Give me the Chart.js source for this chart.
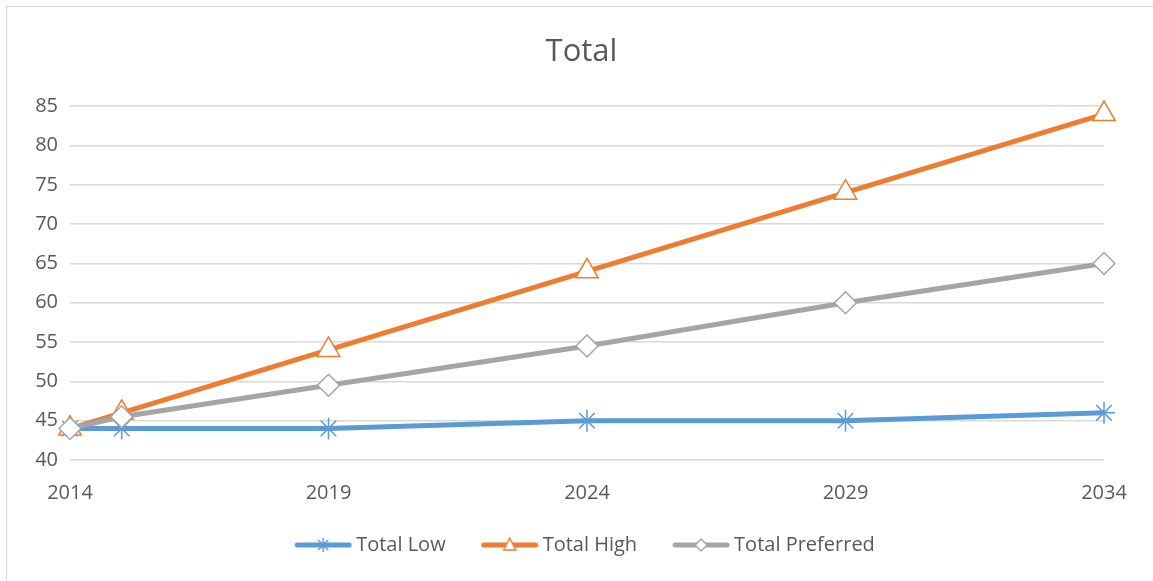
<!DOCTYPE html>
<html>
<head>
<meta charset="utf-8">
<script src="https://cdn.jsdelivr.net/npm/chart.js@4"></script>
<style>
  body { margin: 0; background: #fff; }
  #wrap { position: relative; width: 1153px; height: 581px; }
  #frame { position: absolute; left: 6px; top: 6px; width: 1160px; height: 590px; border: 1px solid #d9d9d9; }
  canvas { position: absolute; left: 0; top: 0; }
</style>
</head>
<body>
<div id="wrap">
  <div id="frame"></div>
  <canvas id="chart" width="1153" height="581"></canvas>
</div>
<script>
var years = [2014, 2015, 2019, 2024, 2029, 2034];
var totalLow = [44, 44, 44, 45, 45, 46];
var totalHigh = [44, 46, 54, 64, 74, 84];
var totalPreferred = [44, 45.5, 49.5, 54.5, 60, 65];
var seriesNames = ['Total Low', 'Total High', 'Total Preferred'];
var colors = ['#5b9bd5', '#ed7d31', '#a5a5a5'];
var markers = ['star', 'triangle', 'rectRot'];
var markerSizes = [11, 13, 11];

var textColor = '#595959';
var fontName = '"Open Sans", sans-serif';

function toPoints(vals) {
    var pts = [];
    for (var i in years) {
        pts.push({x: years[i], y: vals[i]});
    }
    return pts;
}

// small legend picture: thick line with the marker in the middle
function legendIcon(color, marker) {
    var gap = 6;
    var c = document.createElement('canvas');
    c.width = 58 + 2 * gap;
    c.height = 20;
    var g = c.getContext('2d');
    g.strokeStyle = color;
    g.lineWidth = 5;
    g.lineCap = 'round';
    g.beginPath();
    g.moveTo(2 * gap + 3, 10);
    g.lineTo(c.width - 3, 10);
    g.stroke();
    var cx = 2 * gap + 29;
    g.lineWidth = 1.5;
    g.lineCap = 'butt';
    g.fillStyle = '#fff';
    g.beginPath();
    if (marker == 'triangle') {
        g.moveTo(cx, 3); g.lineTo(cx + 6, 15); g.lineTo(cx - 6, 15); g.closePath();
        g.fill(); g.stroke();
    } else if (marker == 'rectRot') {
        g.moveTo(cx, 4); g.lineTo(cx + 6, 10); g.lineTo(cx, 16); g.lineTo(cx - 6, 10); g.closePath();
        g.fill(); g.stroke();
    } else {
        g.moveTo(cx - 5, 5); g.lineTo(cx + 5, 15);
        g.moveTo(cx + 5, 5); g.lineTo(cx - 5, 15);
        g.moveTo(cx, 3); g.lineTo(cx, 17);
        g.stroke();
    }
    return c;
}

var allValues = [totalLow, totalHigh, totalPreferred];
var datasets = [];
for (var s = 0; s < 3; s++) {
    datasets.push({
        label: seriesNames[s],
        data: toPoints(allValues[s]),
        borderColor: colors[s],
        backgroundColor: '#fff',
        borderWidth: 5,
        pointStyle: markers[s],
        pointRadius: markerSizes[s],
        pointBorderWidth: 1.5,
        pointBorderColor: colors[s],
        pointBackgroundColor: markers[s] == 'star' ? colors[s] : '#fff',
        clip: false,
        tension: 0
    });
}
datasets.reverse();

var icons = [];
for (var s = 0; s < 3; s++) icons.push(legendIcon(colors[s], markers[s]));

var ctx = document.getElementById('chart');
var lineChart = new Chart(ctx, {
    type: 'line',
    data: {datasets: datasets},
    options: {
        responsive: false,
        animation: false,
        layout: {padding: {left: 10, right: 0, top: 0, bottom: 16}},
        plugins: {
            title: {
                display: true,
                text: 'Total',
                color: textColor,
                font: {family: fontName, size: 31, weight: 'normal'},
                padding: {top: 34, bottom: 35}
            },
            legend: {
                position: 'bottom',
                labels: {
                    color: textColor,
                    font: {family: fontName, size: 20},
                    usePointStyle: true,
                    boxWidth: 58,
                    pointStyleWidth: 58,
                    padding: 29,
                    generateLabels: function (chart) {
                        var out = [];
                        for (var s = 0; s < 3; s++) {
                            out.push({
                                text: seriesNames[s],
                                pointStyle: icons[s],
                                fontColor: textColor,
                                strokeStyle: colors[s],
                                fillStyle: colors[s],
                                lineWidth: 0,
                                datasetIndex: 2 - s
                            });
                        }
                        return out;
                    }
                }
            },
            tooltip: {enabled: false}
        },
        scales: {
            x: {
                type: 'linear',
                min: 2014,
                max: 2034,
                grid: {display: false},
                border: {display: false},
                ticks: {
                    stepSize: 5,
                    color: textColor,
                    font: {family: fontName, size: 20},
                    padding: 13,
                    callback: function (v) { return String(v); }
                },
                afterFit: function (scale) { scale.height = 46; }
            },
            y: {
                min: 40,
                max: 85,
                grid: {color: '#d9d9d9', lineWidth: 1.5, drawTicks: false},
                border: {display: false},
                ticks: {
                    stepSize: 5,
                    color: textColor,
                    font: {family: fontName, size: 20},
                    padding: 12
                },
                afterFit: function (scale) { scale.width = 60; }
            },
            // empty right side space, keeps the plot where the original has it
            yRight: {
                position: 'right',
                grid: {display: false},
                border: {display: false},
                ticks: {display: false},
                afterFit: function (scale) { scale.width = 49; }
            }
        }
    }
});
</script>
</body>
</html>
